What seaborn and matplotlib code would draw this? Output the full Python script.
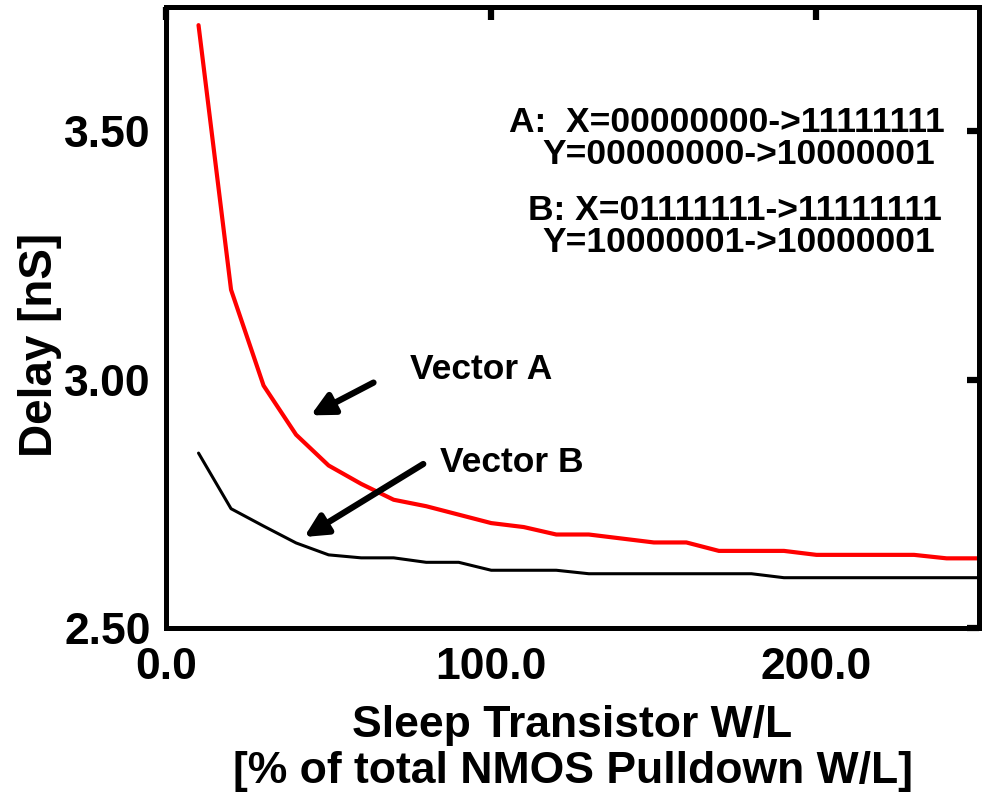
import pandas as pd
import seaborn as sns
import matplotlib.pyplot as plt

# sleep transistor size sweep (% of total NMOS pulldown W/L)
wl_percent = [10, 20, 30, 40, 50, 60, 70, 80, 90, 100, 110, 120, 130,
              140, 150, 160, 170, 180, 190, 200, 210, 220, 230, 240, 250]
delay_vector_a = [3.714, 3.181, 2.988, 2.889, 2.827, 2.790, 2.758, 2.745, 2.728,
                  2.711, 2.703, 2.688, 2.688, 2.680, 2.672, 2.672, 2.655, 2.655,
                  2.655, 2.647, 2.647, 2.647, 2.647, 2.640, 2.640]
delay_vector_b = [2.852, 2.740, 2.705, 2.671, 2.647, 2.641, 2.641, 2.632, 2.632,
                  2.616, 2.616, 2.616, 2.609, 2.609, 2.609, 2.609, 2.609, 2.609,
                  2.601, 2.601, 2.601, 2.601, 2.601, 2.601, 2.601]

x_ticks = [0, 100, 200]
x_tick_labels = ['0.0', '100.0', '200.0']
y_ticks = [2.5, 3.0, 3.5]
y_tick_labels = ['2.50', '3.00', '3.50']

legend_lines = [
    ('A:  X=00000000->11111111', 239.5, 3.518),
    ('Y=00000000->10000001', 236.5, 3.454),
    ('B: X=01111111->11111111', 238.5, 3.341),
    ('Y=10000001->10000001', 236.5, 3.277),
]

df = pd.DataFrame({'wl': wl_percent, 'a': delay_vector_a, 'b': delay_vector_b})

sns.set_style('white')
plt.rcParams['font.family'] = ['Liberation Sans', 'DejaVu Sans']
plt.rcParams['font.weight'] = 'bold'
plt.rcParams['text.color'] = 'black'
plt.rcParams['axes.labelcolor'] = 'black'
plt.rcParams['xtick.color'] = 'black'
plt.rcParams['ytick.color'] = 'black'

fig = plt.figure(figsize=(9.84, 8.07), dpi=100)
ax = fig.add_axes([0.1687, 0.222, 0.8263, 0.769])

sns.lineplot(data=df, x='wl', y='a', color='#ff0000', linewidth=3.0, ax=ax, clip_on=False)
sns.lineplot(data=df, x='wl', y='b', color='black', linewidth=2.2, ax=ax)

ax.set_xlim(0, 250)
ax.set_ylim(2.5, 3.75)
ax.set_xticks(x_ticks)
ax.set_xticklabels(x_tick_labels, fontsize=32, fontweight='bold')
ax.set_yticks(y_ticks)
ax.set_yticklabels(y_tick_labels, fontsize=32, fontweight='bold')
ax.tick_params(direction='in', length=9, width=4.5, top=True, right=True,
               labeltop=False, labelright=False)
ax.tick_params(axis='x', pad=14)
ax.tick_params(axis='y', pad=11)

for s in ax.spines.values():
    s.set_linewidth(3.6)
    s.set_color('black')

ax.set_xlabel('Sleep Transistor W/L\n[% of total NMOS Pulldown W/L]',
              fontsize=32, fontweight='bold', linespacing=1.15, labelpad=12)
ax.set_ylabel('Delay [nS]', fontsize=33, fontweight='bold')
ax.yaxis.set_label_coords(-0.128, 0.456)

for txt, x, y in legend_lines:
    ax.text(x, y, txt, fontsize=25.5, fontweight='bold', ha='right', va='center')

ax.text(75.1, 3.02, 'Vector A', fontsize=25.5, fontweight='bold', ha='left', va='center')
ax.text(84.3, 2.834, 'Vector B', fontsize=25.5, fontweight='bold', ha='left', va='center')

arrow = dict(arrowstyle='-|>', color='black', lw=4.5, mutation_scale=34,
             shrinkA=0, shrinkB=0)
ax.annotate('', xy=(44.5, 2.928), xytext=(63.8, 2.994), arrowprops=arrow)
ax.annotate('', xy=(42.5, 2.683), xytext=(79.1, 2.830), arrowprops=arrow)

plt.savefig('out.png', dpi=100)
